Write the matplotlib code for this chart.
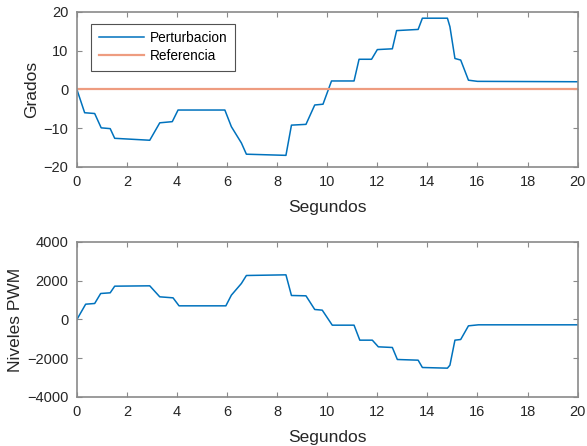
import numpy as np
import matplotlib.pyplot as plt

plt.rcParams['font.family'] = ['Liberation Sans', 'DejaVu Sans']

# breakpoints (segundos, grados)
t_ang = [0, 0.31, 0.71, 0.97, 1.33, 1.51, 2.91, 3.31, 3.81, 4.04, 5.91, 6.17, 6.57,
         6.77, 8.35, 8.57, 9.15, 9.5, 9.83, 10.17, 11.07, 11.27, 11.77, 12.0, 12.6,
         12.77, 13.63, 13.8, 14.8, 14.9, 15.1, 15.33, 15.64, 16.0, 20.0]
ang = [0, -6.0, -6.2, -9.9, -10.1, -12.6, -13.1, -8.6, -8.3, -5.3, -5.3, -9.6, -13.8,
       -16.7, -17.0, -9.2, -9.0, -4.0, -3.8, 2.2, 2.2, 7.8, 7.8, 10.3, 10.5,
       15.2, 15.5, 18.4, 18.4, 16.2, 8.0, 7.6, 2.4, 2.1, 2.0]
ref = [0, 0]
t_ref = [0, 20]

# niveles PWM
t_pwm = [0, 0.35, 0.71, 0.95, 1.33, 1.51, 2.91, 3.31, 3.84, 4.08, 5.95, 6.17, 6.57,
         6.77, 8.35, 8.57, 9.15, 9.5, 9.8, 10.2, 11.07, 11.3, 11.8, 12.04, 12.6,
         12.8, 13.63, 13.8, 14.8, 14.9, 15.1, 15.33, 15.64, 16.04, 20.0]
pwm = [0, 790, 826, 1342, 1377, 1720, 1738, 1170, 1118, 705, 705, 1256, 1858,
       2271, 2305, 1239, 1222, 516, 482, -293, -293, -1067, -1067, -1411, -1445,
       -2065, -2100, -2478, -2512, -2358, -1067, -1033, -327, -275, -275]

blue = '#0072BD'
orange = '#EE9C80'
txt = '#262626'
spine = '#8a8a8a'

fig = plt.figure(figsize=(5.87, 4.46), dpi=100)
ax1 = fig.add_axes([0.131, 0.6256, 0.853, 0.3475])
ax2 = fig.add_axes([0.131, 0.1099, 0.853, 0.3475])

ax1.plot(t_ang, ang, color=blue, lw=1.1, label='Perturbacion')
ax1.plot(t_ref, ref, color=orange, lw=1.6, label='Referencia')
ax1.set_ylim(-20, 20)
ax1.set_yticks([-20, -10, 0, 10, 20])
ax1.set_ylabel('Grados', fontsize=12.5, color=txt, labelpad=3)
leg = ax1.legend(loc='upper left', bbox_to_anchor=(0.029, 0.925), fontsize=9.8,
                 frameon=True, fancybox=False, edgecolor=txt, borderpad=0.55,
                 handlelength=3.3, handletextpad=0.45, labelspacing=0.3,
                 borderaxespad=0)
leg.get_frame().set_linewidth(0.8)

ax2.plot(t_pwm, pwm, color=blue, lw=1.1)
ax2.set_ylim(-4000, 4000)
ax2.set_yticks([-4000, -2000, 0, 2000, 4000])
ax2.set_ylabel('Niveles PWM', fontsize=12.5, color=txt, labelpad=3)

for ax in (ax1, ax2):
    ax.set_xlim(0, 20)
    ax.set_xticks(range(0, 21, 2))
    ax.set_xlabel('Segundos', fontsize=12.5, color=txt, labelpad=8)
    ax.tick_params(direction='in', top=True, right=True, length=3.5, width=0.8,
                   labelsize=10.5, colors=spine, labelcolor=txt, pad=6)
    for s in ax.spines.values():
        s.set_color(spine)
        s.set_linewidth(1.2)

fig.savefig('out.png', dpi=100)
